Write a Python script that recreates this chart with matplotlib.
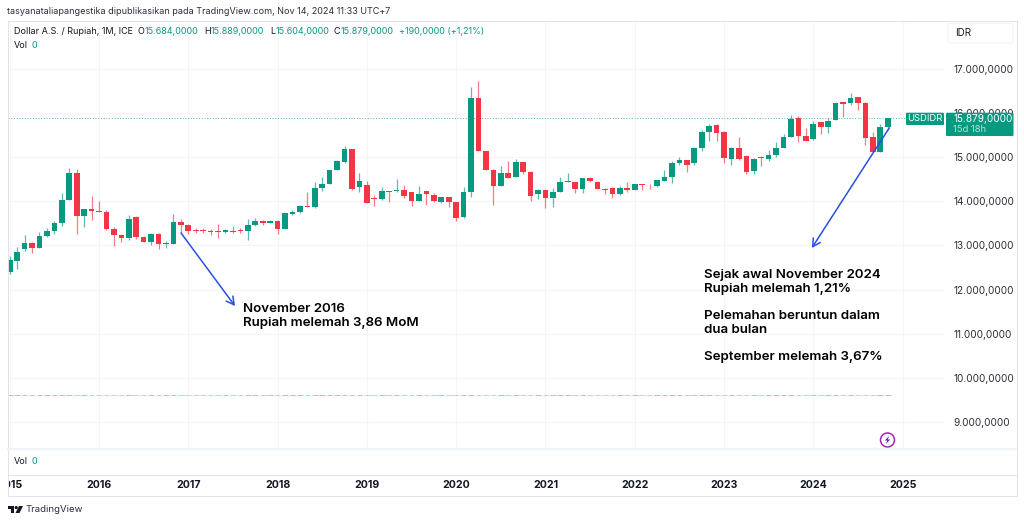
import matplotlib
matplotlib.use('Agg')
import matplotlib.pyplot as plt
import numpy as np
from matplotlib.patches import Circle, Polygon, FancyBboxPatch

plt.rcParams['font.family'] = ['Inter', 'DejaVu Sans']

# monthly candles, Jan 2015 .. Nov 2024
opens = [12397,12653,12911,13060,12947,13212,13318,13513,14026,14630,13664,13816,
         13777,13761,13363,13234,13160,13648,13189,13083,13257,13031,13031,13535,
         13454,13347,13341,13325,13325,13302,13331,13347,13331,13461,13551,13513,
         13558,13377,13716,13748,13890,13868,14304,14395,14705,14886,15180,14313,
         14358,14064,14049,14230,14223,14252,14207,14010,14223,14146,13988,14087,
         13981,13635,14214,16333,15141,14711,14343,14630,14539,14886,14666,14155,
         14259,14064,14207,14433,14433,14282,14517,14440,14282,14297,14155,14297,
         14259,14381,14372,14336,14462,14553,14856,14931,14870,15202,15564,15716,
         15564,14960,15202,15028,14682,14992,14960,15051,15202,15451,15874,15474,
         15399,15784,15684,15842,16236,16220,16349,16213,15451,15119,15684]
closes = [12669,12850,13060,12947,13212,13318,13506,14026,14630,13664,13816,13770,
          13761,13363,13234,13160,13590,13196,13083,13250,13031,13053,13535,13454,
          13331,13325,13318,13302,13309,13341,13309,13325,13461,13551,13513,13551,
          13370,13725,13761,13897,13868,14304,14388,14705,14908,15180,14275,14462,
          13958,14049,14223,14207,14259,14117,13997,14162,14162,13997,14087,13981,
          13626,14214,16333,15141,14711,14349,14630,14530,14886,14666,14110,14259,
          14064,14207,14426,14449,14275,14517,14449,14282,14252,14155,14291,14259,
          14381,14358,14358,14472,14553,14863,14931,14824,15202,15571,15700,15541,
          14969,15209,14960,14653,14960,14969,15051,15202,15458,15858,15474,15367,
          15752,15684,15820,16220,16204,16340,16220,15428,15112,15670,15879]
highs = [12748,12970,13234,13069,13309,13386,13551,14178,14757,14720,13822,14123,
         14010,13793,13422,13250,13687,13664,13212,13280,13273,13106,13709,13590,
         13476,13386,13399,13370,13476,13370,13431,13392,13590,13619,13580,13580,
         13567,13725,13800,13913,14200,14426,14540,14711,14931,15241,15180,14630,
         14462,14132,14320,14230,14501,14358,14214,14336,14230,14184,14101,14101,
         13988,14320,16575,16711,15141,14720,14802,14901,14960,14892,14682,14268,
         14268,14291,14546,14630,14440,14524,14540,14449,14304,14313,14343,14426,
         14388,14381,14388,14478,14711,14901,15006,14938,15232,15603,15745,15745,
         15580,15232,15458,15044,14983,15015,15150,15331,15512,15942,15919,15655,
         15806,15790,15881,16243,16243,16446,16356,16250,15571,15752,15889]
lows = [12352,12458,12879,12834,12933,13182,13257,13445,14026,13250,13422,13574,
        13757,13341,12992,13069,13128,13137,13069,13008,12918,12933,13031,13273,
        13257,13286,13273,13234,13173,13273,13273,13286,13121,13438,13454,13506,
        13264,13372,13687,13732,13863,13845,14236,14388,14698,14870,14252,14207,
        13951,13890,14033,13988,14214,14071,13890,14003,13906,13981,13951,13861,
        13551,13612,14101,15137,14707,13920,14338,14526,14535,14607,14010,14055,
        13852,13861,14200,14426,14184,14177,14440,14275,14169,14064,14150,14214,
        14252,14245,14268,14327,14456,14417,14818,14659,14811,15141,15367,15367,
        14870,14824,14938,14614,14614,14795,14901,15005,15195,15444,15338,15361,
        15383,15526,15548,15836,15897,16175,16062,15277,15105,15112,15604]
volumes = [0] * len(closes)

years = [2015,2016,2017,2018,2019,2020,2021,2022,2023,2024,2025]
price_ticks = [9000,10000,11000,12000,13000,14000,15000,16000,17000]
last_price = 15879

note_left = ["November 2016", "Rupiah melemah 3,86 MoM"]
note_right = [("Sejak awal November 2024",275), ("Rupiah melemah 1,21%",289),
              ("Pelemahan beruntun dalam",316), ("dua bulan",330),
              ("September melemah 3,67%",357)]

GREEN = '#089981'
RED = '#F23645'
DARK = '#131722'
GRID = '#F4F5F8'
BORDER = '#E0E3EB'
BLUE = '#2A4FE0'
SMALL = 6.5

W, H = 1024, 523
L, R, T, B = 8, 945, 22, 448   # main pane in pixels

def pane(left, top, right, bottom):
    return [left/W, 1-bottom/H, (right-left)/W, (bottom-top)/H]

def idr(v):
    return f"{v:,.4f}".replace(',', 'X').replace('.', ',').replace('X', '.')

fig = plt.figure(figsize=(W/100, H/100), dpi=100, facecolor='white')

ax = fig.add_axes(pane(L, T, R, B))
xlim = (-0.231, 125.7)
ax.set_xlim(*xlim)
ax.set_ylim(8416, 18052)
for s in ax.spines.values():
    s.set_visible(False)

ax.set_xticks([12*i for i in range(len(years))])
ax.set_xticklabels([])
ax.tick_params(axis='x', length=0)
ax.yaxis.tick_right()
ax.set_yticks(price_ticks)
ax.set_yticklabels([idr(v) for v in price_ticks], fontsize=7.2, color='#2A2E39')
ax.tick_params(axis='y', length=0, pad=5.8)
ax.grid(True, color=GRID, linewidth=0.8)
ax.set_axisbelow(True)

# candles
x = np.arange(len(closes))
o, c, hi, lo = map(np.array, (opens, closes, highs, lows))
colors = [GREEN if cc >= oo else RED for oo, cc in zip(o, c)]
ax.vlines(x, lo, hi, colors=colors, linewidth=0.9, alpha=0.65, zorder=3)
ax.bar(x, np.maximum(np.abs(c-o), 15), bottom=np.minimum(o, c), width=0.76,
       color=colors, linewidth=0, zorder=4)

# last price line
ax.axhline(last_price, color=GREEN, linewidth=0.7, linestyle=(0, (1, 1.8)), alpha=0.7, zorder=2)

# volume overlay, all zero here, sits low in the pane
axv = fig.add_axes(pane(L, T, R, B))
axv.set_ylim(-53, 377)
axv.set_xlim(*xlim)
axv.axis('off')
axv.patch.set_alpha(0)
axv.hlines(volumes, x-0.38, x+0.38, colors=['#8FD3C7' if col == GREEN else '#F9BCC2' for col in colors],
           linewidth=0.7)

# arrows
axv.set_zorder(1)
arrow_ax = fig.add_axes(pane(L, T, R, B), sharex=ax, sharey=ax)
arrow_ax.axis('off')
arrow_ax.patch.set_alpha(0)
for tip, tail in [((30.28, 11628), (23.02, 13280)), ((107.8, 12940), (118.2, 15655))]:
    arrow_ax.annotate('', xy=tip, xytext=tail,
                      arrowprops=dict(arrowstyle='->,head_length=0.55,head_width=0.3', color=BLUE,
                                      linewidth=1.1, shrinkA=0, shrinkB=0))
arrow_ax.set_zorder(2)

# time axis, 2015 gets cut by the left edge
axt = fig.add_axes(pane(L, 475, R, 496))
axt.set_xlim(*xlim)
axt.set_ylim(0, 1)
axt.axis('off')
for i, yr in enumerate(years):
    axt.text(12*i, 0.5, str(yr), ha='center', va='center', fontsize=7.6,
             fontweight='bold', color=DARK, clip_on=True)

# everything else in pixels on top
ov = fig.add_axes([0, 0, 1, 1])
ov.set_xlim(0, W)
ov.set_ylim(H, 0)
ov.axis('off')
ov.patch.set_alpha(0)
ov.set_zorder(3)

ov.plot([L-0.5, L-0.5, 1016.5, 1016.5, L-0.5], [21, 496, 496, 21, 21], color=BORDER, linewidth=0.7)
ov.plot([L, 1016], [449, 449], color='#F0F3FA', linewidth=1.6)
ov.plot([L, 1016], [475, 475], color=BORDER, linewidth=0.7)

# header and legend
ov.text(7, 12, "tasyanataliapangestika dipublikasikan pada TradingView.com, Nov 14, 2024 11:33 UTC+7",
        fontsize=SMALL, color='#2A2E39', va='center')
ov.text(14, 32, "Dollar A.S. / Rupiah, 1M, ICE", fontsize=SMALL, color=DARK, va='center')
for letter, lx, val, vx in [("O",138,"15.684,0000",145), ("H",204,"15.889,0000",211),
                            ("L",270,"15.604,0000",276), ("C",334,"15.879,0000",341)]:
    ov.text(lx, 32, letter, fontsize=SMALL, color=DARK, va='center')
    ov.text(vx, 32, val, fontsize=SMALL, color=GREEN, va='center')
ov.text(399, 32, "+190,0000 (+1,21%)", fontsize=SMALL, color=GREEN, va='center')
ov.text(14, 45, "Vol", fontsize=SMALL, color=DARK, va='center')
ov.text(32, 45, "0", fontsize=SMALL, color=GREEN, va='center')
ov.text(14, 462, "Vol", fontsize=SMALL, color=DARK, va='center')
ov.text(32, 462, "0", fontsize=SMALL, color=GREEN, va='center')

# IDR button
ov.add_patch(FancyBboxPatch((948, 23.5), 65, 19.5, boxstyle='round,pad=0,rounding_size=2',
                            facecolor='white', edgecolor='#F0F3FA', linewidth=0.8))
ov.text(955, 33, "IDR", fontsize=7, color=DARK, va='center')

# price tags
ov.add_patch(FancyBboxPatch((906, 112.7), 38, 12.3, boxstyle='round,pad=0,rounding_size=1',
                            facecolor=GREEN, edgecolor='none'))
ov.text(925, 118.8, "USDIDR", fontsize=6.8, color='white', ha='center', va='center')
ov.add_patch(FancyBboxPatch((946, 112.7), 67.5, 23.3, boxstyle='round,pad=0,rounding_size=1',
                            facecolor=GREEN, edgecolor='none'))
ov.text(953, 118.8, idr(last_price), fontsize=7.2, color='white', va='center')
ov.text(953, 129.3, "15d 18h", fontsize=6.8, color='#B5E0D8', va='center')

# notes
ov.text(243, 308.5, note_left[0], fontsize=9.6, fontweight='semibold', color='black', va='center')
ov.text(243, 322.7, note_left[1], fontsize=9.6, fontweight='semibold', color='black', va='center')
for line, ly in note_right:
    ov.text(704, ly, line, fontsize=9.6, fontweight='semibold', color='black', va='center')

# lightning badge
ov.add_patch(Circle((887.5, 440), 7, facecolor='white', edgecolor='#9C27B0', linewidth=1.1))
ov.add_patch(Polygon([(889.5,435.5),(885,440.5),(887.5,440.5),(885.5,444.5),(890,439.5),(887.5,439.5)],
                     closed=True, facecolor='#4A148C', edgecolor='none'))

# TradingView logo
ov.add_patch(Polygon([(7.5,506),(14,506),(14,513),(10.5,513),(10.5,509),(7.5,509)], closed=True,
                     facecolor=DARK, edgecolor='none'))
ov.add_patch(Circle((16.2, 507.6), 1.6, facecolor=DARK, edgecolor='none'))
ov.add_patch(Polygon([(19,506),(23,506),(19.5,513),(15.5,513)], closed=True, facecolor=DARK, edgecolor='none'))
ov.text(25.5, 509.8, "TradingView", fontsize=6.9, color='#2A2E39', va='center')

fig.savefig('out.png', dpi=100)
